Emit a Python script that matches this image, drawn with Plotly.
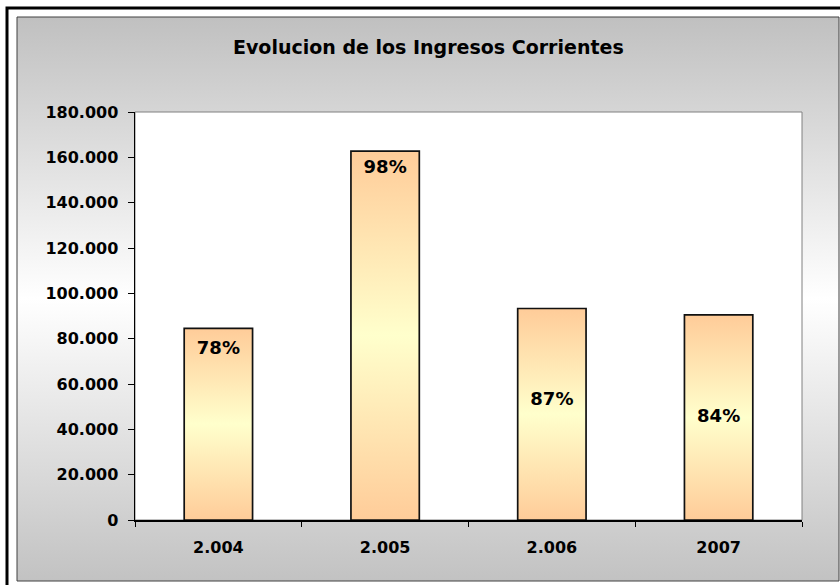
import base64
import plotly.graph_objects as go

# ---- data ----
categories = ["2.004", "2.005", "2.006", "2007"]
ingresos = [84500, 162750, 93300, 90500]
pct_labels = ["78%", "98%", "87%", "84%"]
y_ticks = [0, 20000, 40000, 60000, 80000, 100000, 120000, 140000, 160000, 180000]

# ---- style ----
W, H = 840, 585
bar_w = 0.41
label_frac = [0.888, 0.952, 0.567, 0.502]  # vertical placement of labels within bars
FONT = "DejaVu Sans, Arial, Liberation Sans, sans-serif"


def px_x(p):
    return p / W


def px_y(p):
    return 1 - p / H


fig = go.Figure()

grad = dict(type="vertical",
            colorscale=[[0, "#ffcc99"], [0.5, "#ffffcc"], [1, "#ffcc99"]])

for i, v in enumerate(ingresos):
    x0, x1 = i - bar_w / 2, i + bar_w / 2
    fig.add_trace(go.Scatter(
        x=[x0, x0, x1, x1, x0], y=[0, v, v, 0, 0],
        mode="lines", fill="toself", fillgradient=grad,
        line=dict(color="#111111", width=1.7),
        hoverinfo="skip", showlegend=False))

fig.add_trace(go.Scatter(
    x=list(range(len(categories))),
    y=[v * f for v, f in zip(ingresos, label_frac)],
    text=pct_labels, mode="text",
    textfont=dict(family=FONT, size=18, color="black", weight="bold"),
    hoverinfo="skip", showlegend=False))

svg = ('<svg xmlns="http://www.w3.org/2000/svg" width="100" height="100" '
       'preserveAspectRatio="none"><defs><linearGradient id="g" x1="0" y1="0" '
       'x2="0" y2="1"><stop offset="0" stop-color="#c0c0c0"/>'
       '<stop offset="0.5" stop-color="#ffffff"/>'
       '<stop offset="1" stop-color="#c2c2c2"/></linearGradient></defs>'
       '<rect width="100" height="100" fill="url(#g)"/></svg>')
svg_uri = "data:image/svg+xml;base64," + base64.b64encode(svg.encode()).decode()

fig.update_layout(
    width=W, height=H,
    margin=dict(l=0, r=0, t=0, b=0, autoexpand=False),
    paper_bgcolor="white",
    plot_bgcolor="white",
    separators=",.",
    showlegend=False,
    images=[dict(source=svg_uri, xref="paper", yref="paper",
                 x=px_x(17), y=px_y(17), sizex=px_x(839) - px_x(17),
                 sizey=px_y(17) - px_y(581), xanchor="left", yanchor="top",
                 sizing="stretch", layer="below")],
    shapes=[
        # plot area
        dict(type="rect", xref="x domain", yref="y domain", x0=0, x1=1, y0=0, y1=1,
             fillcolor="white", line=dict(color="#808080", width=1), layer="below"),
        # inner chart border
        dict(type="rect", xref="paper", yref="paper",
             x0=px_x(17), x1=px_x(839), y0=px_y(581), y1=px_y(17),
             line=dict(color="#404040", width=1), layer="below"),
        # outer black frame
        dict(type="rect", xref="paper", yref="paper",
             x0=px_x(7), x1=1.05, y0=-0.05, y1=px_y(8),
             line=dict(color="black", width=3), layer="above"),
    ],
    annotations=[dict(text="Evolucion de los Ingresos Corrientes",
                      xref="paper", yref="paper", x=px_x(428), y=px_y(47),
                      xanchor="center", yanchor="middle", showarrow=False,
                      font=dict(family=FONT, size=19, color="black", weight="bold"))],
)

fig.update_xaxes(
    domain=[px_x(135), px_x(802)],
    range=[-0.5, len(categories) - 0.5],
    tickmode="array", tickvals=list(range(len(categories))), ticktext=categories,
    ticks="", showgrid=False, zeroline=False, automargin=False,
    showline=True, linecolor="black", linewidth=1.5,
    ticklabelstandoff=12,
    tickfont=dict(family=FONT, size=16, color="black", weight="bold"),
    minor=dict(tickmode="array",
               tickvals=[i - 0.5 for i in range(len(categories) + 1)],
               ticks="outside", ticklen=5, tickcolor="black", tickwidth=1),
    fixedrange=True,
)

fig.update_yaxes(
    domain=[px_y(520), px_y(112)],
    range=[0, 180000],
    tickmode="array", tickvals=y_ticks, tickformat=",.0f",
    ticks="outside", ticklen=6, tickcolor="black", tickwidth=1,
    showgrid=False, zeroline=False, automargin=False,
    showline=True, linecolor="black", linewidth=1.5,
    ticklabelstandoff=6,
    tickfont=dict(family=FONT, size=16, color="black", weight="bold"),
    fixedrange=True,
)

fig.write_html(
    "out.html",
    config={"displayModeBar": False, "staticPlot": True},
    post_script=(
        "var gd=document.getElementById('{plot_id}');"
        "gd.style.position='fixed';gd.style.top='0';gd.style.left='0';"
        "document.body.style.margin='0';"
        "document.documentElement.style.overflow='hidden';"
        "document.body.style.overflow='hidden';"
    ),
)
